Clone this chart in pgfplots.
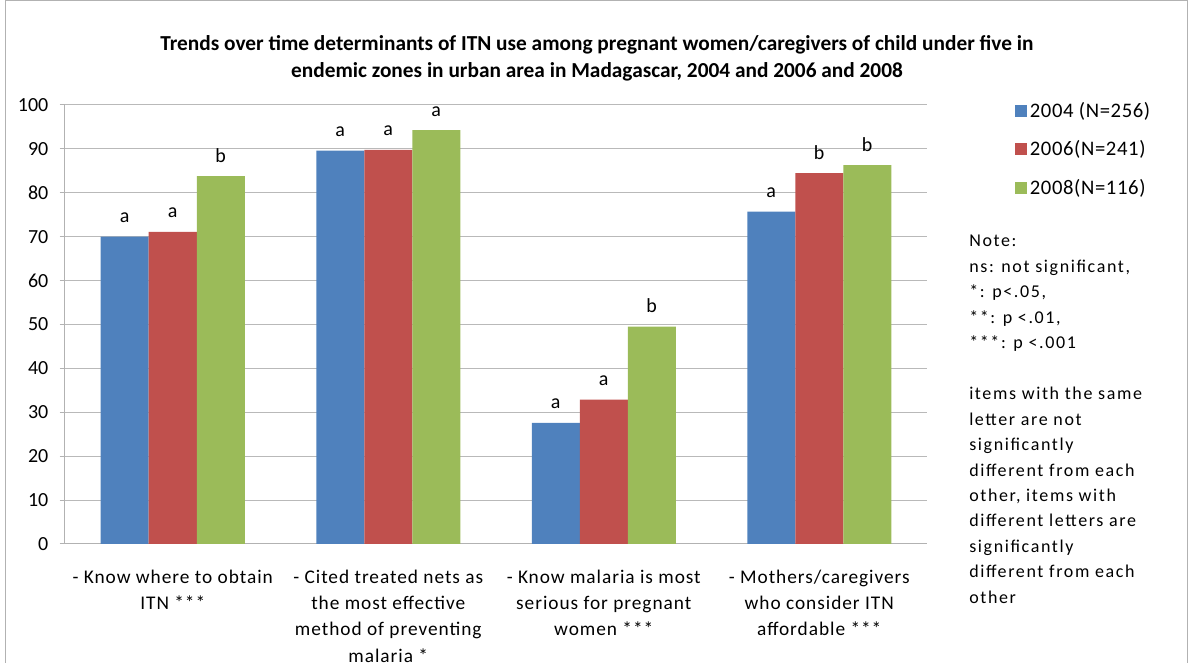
\documentclass[border=0pt]{standalone}
\usepackage{pgfplots}
\pgfplotsset{compat=1.18}
\usepackage{fontspec}
\setmainfont{Carlito}
\definecolor{cA}{HTML}{4F81BD}
\definecolor{cB}{HTML}{C0504D}
\definecolor{cC}{HTML}{9BBB59}
\begin{document}
\begin{tikzpicture}[x=0.75pt,y=0.75pt]
\useasboundingbox (0,0) rectangle (1190,663);
\draw[gray!60, line width=0.75pt] (5,-5) -- (5,662) -- (1187,662) -- (1187,-5);
\node[font=\bfseries\fontsize{16}{19}\selectfont, anchor=base] at (597,612) {Trends over time determinants of ITN use among pregnant women/caregivers of child under five in};
\node[font=\bfseries\fontsize{16}{19}\selectfont, anchor=base] at (597,585) {endemic zones in urban area in Madagascar, 2004 and 2006 and 2008};
\begin{axis}[
  at={(48.75pt,89.25pt)}, anchor=south west,
  scale only axis, width=646.5pt, height=329.25pt,
  ybar=0pt, bar width=36pt,
  ymin=0, ymax=100, xmin=-0.5, xmax=3.5,
  xtick={0,1,2,3},
  xticklabels={{- Know where to obtain\\ITN ***},{- Cited treated nets as\\the most effective\\method of preventing\\malaria *},{- Know malaria is most\\serious for pregnant\\women ***},{- Mothers/caregivers\\who consider ITN\\affordable ***}},
  ytick={0,10,...,100},
  ymajorgrids, grid style={gray!55, line width=0.75pt},
  axis x line*=bottom, axis y line*=left,
  axis line style={gray!60, line width=0.75pt},
  x tick style={draw=none},
  y tick style={gray!60, line width=0.75pt},
  tick align=outside, major tick length=4pt,
  /pgf/number format/assume math mode=true,
  yticklabel style={font=\fontsize{15}{18}\selectfont, xshift=-5pt},
  xticklabel style={font=\addfontfeatures{LetterSpace=5}\fontsize{14.5}{19.6}\selectfont, align=center, inner sep=0pt, yshift=-15.5pt},
  point meta=explicit symbolic,
  nodes near coords,
  nodes near coords style={font=\fontsize{15}{17}\selectfont, anchor=base, inner sep=0pt, yshift=10.5pt, black},
  legend style={at={(1.102,1.013)}, anchor=north west, draw=none, fill=none,
    font=\addfontfeatures{LetterSpace=3}\fontsize{15.5}{18}\selectfont, row sep=12pt, inner sep=0pt,
    /tikz/every even column/.append style={column sep=3pt}},
  legend cell align=left,
]
\addplot[fill=cA, draw=none, legend image code/.code={\fill[cA] (0pt,-4.5pt) rectangle (9pt,4.5pt);}] coordinates {(0,70.0) [a] (1,89.6) [a] (2,27.6) [a] (3,75.7) [a]};
\addplot[fill=cB, draw=none, legend image code/.code={\fill[cB] (0pt,-4.5pt) rectangle (9pt,4.5pt);}] coordinates {(0,71.1) [a] (1,89.8) [a] (2,32.9) [a] (3,84.5) [b]};
\addplot[fill=cC, draw=none, legend image code/.code={\fill[cC] (0pt,-4.5pt) rectangle (9pt,4.5pt);}] coordinates {(0,83.8) [b] (1,94.3) [a] (2,49.5) [b] (3,86.3) [b]};
\legend{2004 (N=256),2006(N=241),2008(N=116)}
\end{axis}
\node[anchor=north west, align=left, inner sep=0pt, font=\addfontfeatures{LetterSpace=9}\fontsize{13.5}{19.1}\selectfont] at (969,428) {Note:\\ns: not significant,\\*: p<.05,\\**: p <.01,\\***: p <.001\\[19.1pt]items with the same\\letter are not\\significantly\\different from each\\other, items with\\different letters are\\significantly\\different from each\\other};
\end{tikzpicture}
\end{document}
